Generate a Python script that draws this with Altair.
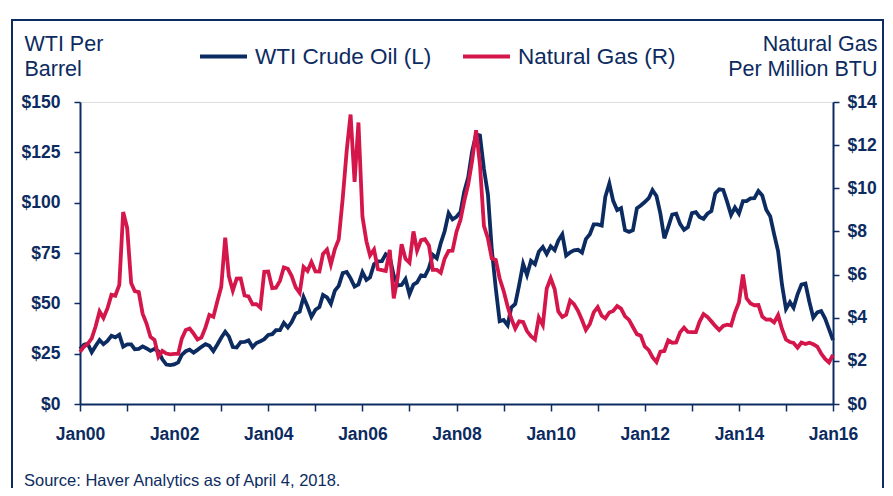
import altair as alt
import pandas as pd

NAVY = "#0c2b60"
RED = "#d4164a"
FONT = "Liberation Sans, Arial, sans-serif"

# Monthly WTI crude oil, $ per barrel (Jan 2000 - Jan 2016)
wti = [
    27.3, 29.4, 29.9, 25.7, 28.8, 31.8, 29.7, 31.3, 33.9, 33.1, 34.4, 28.5,
    29.6, 29.6, 27.2, 27.4, 28.6, 27.6, 26.4, 27.4, 26.2, 22.2, 19.6, 19.3,
    19.7, 20.7, 24.4, 26.2, 27.0, 25.5, 26.9, 28.4, 29.7, 28.9, 26.3, 29.4,
    32.9, 35.9, 33.6, 28.3, 28.1, 30.7, 30.8, 31.6, 28.3, 30.3, 31.1, 32.2,
    34.3, 34.7, 36.7, 36.7, 40.3, 38.0, 40.7, 44.9, 45.9, 53.1, 48.5, 43.3,
    46.8, 48.1, 54.2, 53.0, 49.8, 56.3, 58.7, 65.0, 65.6, 62.4, 58.3, 59.4,
    65.5, 61.6, 62.9, 69.4, 70.8, 70.9, 74.4, 73.0, 63.8, 58.9, 59.1, 62.0,
    54.5, 59.3, 60.4, 63.9, 63.5, 67.5, 74.1, 72.4, 79.9, 85.8, 94.8, 91.7,
    93.0, 95.4, 105.5, 112.6, 125.4, 133.9, 133.4, 116.7, 104.1, 76.6, 57.3, 41.1,
    41.7, 39.1, 47.9, 49.7, 59.0, 69.6, 64.1, 71.1, 69.4, 75.7, 78.0, 74.5,
    78.3, 76.4, 81.2, 84.3, 73.7, 75.3, 76.3, 76.6, 75.2, 81.9, 84.3, 89.2,
    89.2, 88.6, 102.9, 109.5, 100.9, 96.3, 97.3, 86.3, 85.5, 86.3, 97.2, 98.6,
    100.3, 102.2, 106.2, 103.3, 94.7, 82.3, 87.9, 94.1, 94.5, 89.5, 86.5, 87.9,
    94.8, 95.3, 92.9, 92.0, 94.5, 95.8, 104.6, 106.6, 106.3, 100.5, 93.9, 97.6,
    94.6, 100.8, 100.8, 102.1, 102.2, 105.8, 103.6, 96.5, 93.2, 84.4, 75.8, 59.3,
    47.2, 50.6, 47.8, 54.5, 59.3, 59.8, 50.9, 42.9, 45.5, 46.2, 42.4, 37.2,
    31.7,
]

# Monthly natural gas, $ per million BTU (Jan 2000 - Jan 2016)
gas = [
    2.42, 2.66, 2.79, 3.04, 3.59, 4.29, 3.99, 4.43, 5.06, 5.02, 5.52, 8.90,
    8.17, 5.61, 5.23, 5.19, 4.19, 3.72, 3.11, 2.97, 2.19, 2.46, 2.34, 2.30,
    2.32, 2.32, 3.03, 3.43, 3.50, 3.26, 2.99, 3.09, 3.55, 4.13, 4.04, 4.74,
    5.43, 7.71, 5.93, 5.26, 5.81, 5.82, 5.03, 4.99, 4.62, 4.63, 4.47, 6.13,
    6.14, 5.37, 5.39, 5.71, 6.33, 6.27, 5.93, 5.41, 5.15, 6.35, 6.17, 6.58,
    6.15, 6.14, 6.96, 7.16, 6.47, 7.18, 7.63, 9.53, 11.75, 13.42, 10.30, 13.05,
    8.69, 7.54, 6.89, 7.16, 6.25, 6.21, 6.17, 7.14, 4.90, 5.85, 7.41, 6.73,
    6.55, 8.00, 7.11, 7.60, 7.64, 7.35, 6.22, 6.22, 6.08, 6.74, 7.10, 7.11,
    7.99, 8.54, 9.41, 10.18, 11.27, 12.69, 11.09, 8.26, 7.67, 6.74, 6.68, 5.82,
    5.24, 4.52, 3.96, 3.50, 3.83, 3.80, 3.38, 3.14, 2.99, 4.01, 3.66, 5.35,
    5.83, 5.32, 4.29, 4.03, 4.14, 4.80, 4.63, 4.32, 3.89, 3.43, 3.71, 4.25,
    4.49, 4.09, 3.97, 4.24, 4.31, 4.54, 4.42, 4.06, 3.90, 3.57, 3.24, 3.17,
    2.67, 2.50, 2.17, 1.95, 2.43, 2.46, 2.95, 2.84, 2.85, 3.32, 3.54, 3.34,
    3.33, 3.33, 3.81, 4.17, 4.04, 3.83, 3.62, 3.43, 3.62, 3.68, 3.64, 4.24,
    4.71, 6.00, 4.90, 4.66, 4.58, 4.59, 4.05, 3.91, 3.92, 3.78, 4.12, 3.48,
    2.99, 2.87, 2.83, 2.61, 2.85, 2.78, 2.84, 2.77, 2.66, 2.34, 2.09, 1.93,
    2.28,
]

months = pd.date_range("2000-01-01", "2016-01-01", freq="MS").strftime("%Y-%m-%dT00:00:00").tolist()
series_names = ["WTI Crude Oil (L)", "Natural Gas (R)"]
left_ticks = [0, 25, 50, 75, 100, 125, 150]
right_ticks = [0, 2, 4, 6, 8, 10, 12, 14]
source_text = "Source: Haver Analytics as of April 4, 2018."

df = pd.DataFrame({
    "date": months * 2,
    "value": wti + gas,
    "series": [series_names[0]] * len(wti) + [series_names[1]] * len(gas),
})

x_enc = alt.X(
    "date:T",
    scale=alt.Scale(domain=[alt.DateTime(year=2000, month=1, date=1),
                            alt.DateTime(year=2016, month=1, date=1)], nice=False),
    axis=alt.Axis(
        values=[alt.DateTime(year=y, month=1, date=1) for y in range(2000, 2017)],
        labelExpr="year(datum.value) % 2 == 0 ? 'Jan' + timeFormat(datum.value, '%y') : ''",
        title=None, grid=False, labelFontSize=17.5, labelFontWeight="bold",
        labelColor=NAVY, labelFont=FONT, tickSize=7, tickColor=NAVY, tickWidth=1.5,
        domainColor=NAVY, domainWidth=2, labelPadding=14, labelFlush=False,
        labelOverlap=False,
    ),
)

color_enc = alt.Color(
    "series:N",
    scale=alt.Scale(domain=series_names, range=[NAVY, RED]),
    legend=alt.Legend(
        orient="none", legendX=118, legendY=-71, direction="horizontal", title=None,
        symbolType="stroke", symbolSize=2209, symbolStrokeWidth=3.8,
        labelFontSize=22.5, labelFont=FONT, labelColor=NAVY, labelOffset=6,
        columnPadding=23, padding=0, labelLimit=400,
    ),
)

base = alt.Chart(df)

wti_layer = base.transform_filter(alt.datum.series == series_names[0]).mark_line(
    strokeWidth=3.8
).encode(
    x=x_enc,
    y=alt.Y("value:Q", scale=alt.Scale(domain=[0, 150], nice=False),
            axis=alt.Axis(
                values=left_ticks, labelExpr="'$' + datum.value", grid=False,
                labelFontSize=17.5, labelFontWeight="bold", labelColor=NAVY, labelFont=FONT,
                tickSize=6, tickColor=NAVY, tickWidth=1.5, domainColor=NAVY, domainWidth=2,
                labelPadding=14, title=["WTI Per", "Barrel"], titleAngle=0,
                titleAlign="left", titleBaseline="alphabetic", titleX=-56, titleY=-52,
                titleFontSize=21.5, titleFontWeight="normal", titleColor=NAVY,
                titleFont=FONT, titleLineHeight=25,
            )),
    color=color_enc,
)

gas_layer = base.transform_filter(alt.datum.series == series_names[1]).mark_line(
    strokeWidth=3.8
).encode(
    x=x_enc,
    y=alt.Y("value:Q", scale=alt.Scale(domain=[0, 14], nice=False),
            axis=alt.Axis(
                orient="right", values=right_ticks, labelExpr="'$' + datum.value",
                grid=False, labelFontSize=17.5, labelFontWeight="bold", labelColor=NAVY,
                labelFont=FONT, tickSize=6, tickColor=NAVY, tickWidth=1.5,
                domainColor=NAVY, domainWidth=2, labelPadding=8,
                title=["Natural Gas", "Per Million BTU"], titleAngle=0,
                titleAlign="right", titleBaseline="alphabetic", titleX=44, titleY=-52,
                titleFontSize=21.5, titleFontWeight="normal", titleColor=NAVY,
                titleFont=FONT, titleLineHeight=25,
            )),
    color=color_enc,
)

note = alt.Chart(pd.DataFrame({"t": [source_text]})).mark_text(
    align="left", baseline="alphabetic", fontSize=16.5, font=FONT, color=NAVY
).encode(text="t:N", x=alt.value(-56), y=alt.value(384))

frame = alt.Chart(pd.DataFrame({"t": [0]})).mark_rect(
    fillOpacity=0, stroke=NAVY, strokeWidth=2
).encode(x=alt.value(-68), x2=alt.value(803), y=alt.value(-82), y2=alt.value(400))

chart = alt.layer(frame, wti_layer, gas_layer, note).resolve_scale(
    y="independent"
).properties(
    width=753, height=302,
    padding={"left": 72, "top": 94, "right": 52, "bottom": 84},
    autosize=alt.AutoSizeParams(type="none"),
).configure_view(stroke=None).configure(font=FONT)

chart.save("out.html", embed_options={"renderer": "svg", "actions": False})
